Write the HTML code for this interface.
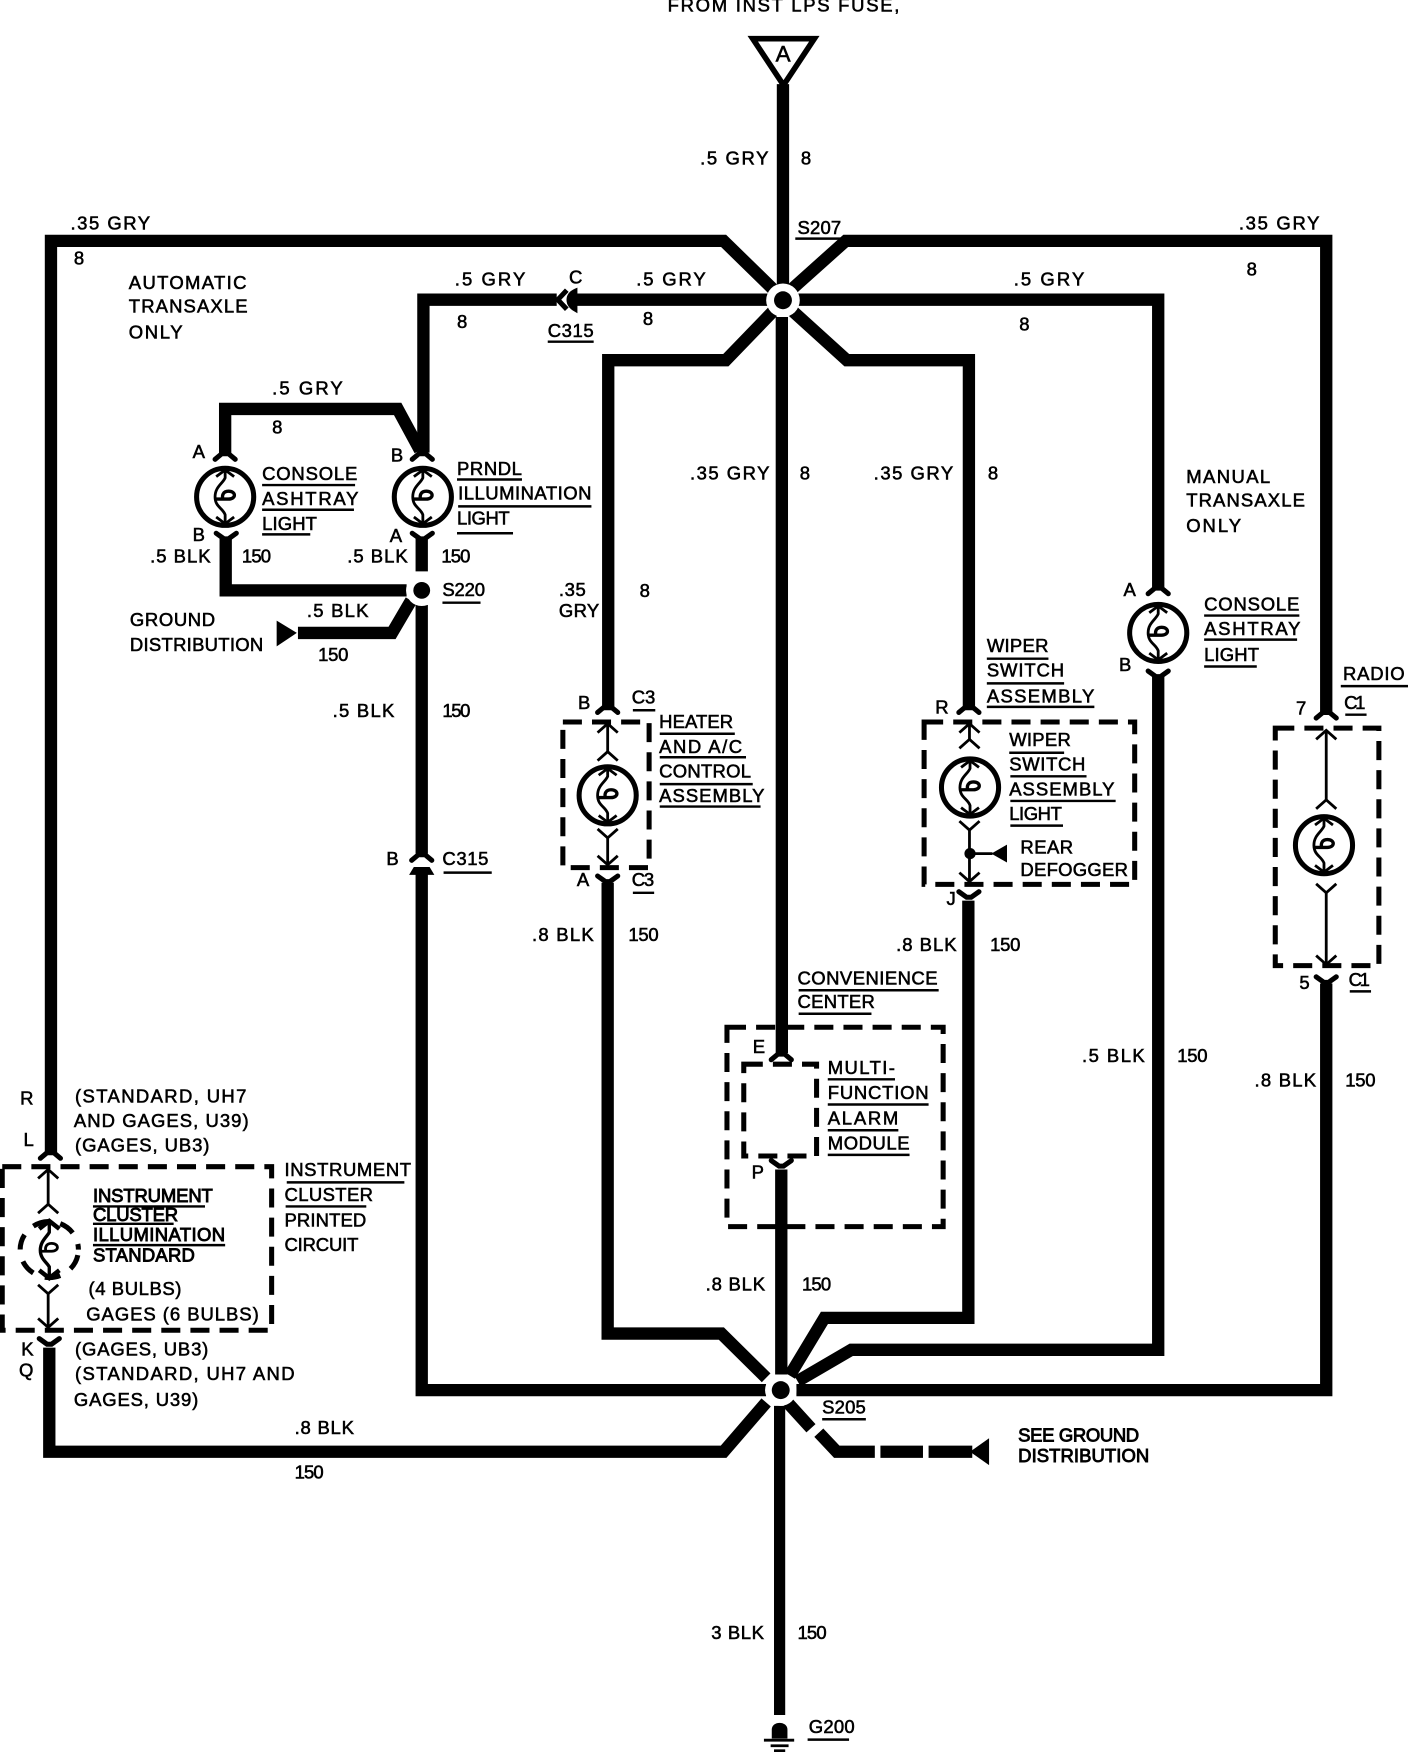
<!DOCTYPE html>
<html>
<head>
<meta charset="utf-8">
<title>Wiring diagram</title>
<style>
html,body{margin:0;padding:0;background:#fff;width:1408px;height:1752px;overflow:hidden}
svg{display:block}
text{font-family:"Liberation Sans",sans-serif;font-size:16.5px;fill:#000;stroke:#000;stroke-width:.5px}
.b{stroke-width:.8px}
.w{fill:none;stroke:#000;stroke-width:11;stroke-linejoin:miter}
.u{fill:none;stroke:#000;stroke-width:2.2}
.d{fill:none;stroke:#000;stroke-width:4.5;stroke-dasharray:17 9}
.t{fill:none;stroke:#000;stroke-width:2.5}
</style>
</head>
<body>
<svg xmlns="http://www.w3.org/2000/svg" width="1408" height="1752" viewBox="0 0 1257 1564">
<defs>
<g id="bulb" fill="none" stroke="#000">
<circle r="25.500" stroke-width="4.5"/>
<path stroke-width="2.5" d="M0,-25 L0,-17 C-2,-12 -9,-9 -9,0 C-9,9 -2,10 0,16 L0,25"/>
<path stroke-width="3" d="M-8,2 H3 C10,2 10,-5 3,-5 C-2,-5 -3,-1 -2,2"/>
<path stroke-width="2.5" d="M-8,-18 L0,-24 L8,-18 M-8,18 L0,24 L8,18"/>
</g>
<path id="cap" fill="none" stroke="#000" stroke-width="4.5" stroke-linecap="round" d="M-9,5 L-3,0 H3 L9,5"/>
<path id="cup" fill="none" stroke="#000" stroke-width="4.5" stroke-linecap="round" d="M-9,-4 L-2,1 H2 L9,-4"/>
<path id="up" fill="none" stroke="#000" stroke-width="2.5" d="M-9,7 L0,-1 L9,7"/>
<path id="dn" fill="none" stroke="#000" stroke-width="2.5" d="M-9,-7 L0,1 L9,-7"/>
</defs>

<!-- wires -->
<g class="w">
<path d="M699,75 V256"/>
<path d="M45.5,1030 V215 H646 L690,258"/>
<path d="M1184,637 V215 H755 L707,258"/>
<path d="M688,267.500 H515"/>
<path d="M497,267.500 H378 V404"/>
<path d="M712,267.500 H1034 V526"/>
<path d="M690,278 L648,321.500 H543 V634"/>
<path d="M708,278 L756,321.500 H865 V634"/>
<path d="M698,283 V940"/>
<path d="M201,406 V365 H355 L375,402"/>
<path d="M201.500,480 V527 H363"/>
<path d="M376.500,480 V510"/>
<path d="M367,536 L350,565 H266"/>
<path d="M376.500,540 V762"/>
<path d="M376.500,778 V1241 H684"/>
<path d="M711,1241 H1184 V878"/>
<path d="M542.500,788 V1190.500 H644 L684,1230"/>
<path d="M864.500,804 V1176.500 H736 L705,1228"/>
<path d="M1034,604 V1205 H760 L712,1233"/>
<path d="M697.500,1044 V1227"/>
<path d="M44,1203 V1296 H646 L684,1252"/>
<path d="M696,1255 V1531" style="stroke-width:10"/>
<path d="M703,1252 L724,1275"/>
<path d="M731,1279 L747,1296 H781"/>
<path d="M786,1296 H824"/>
<path d="M829,1296 H868"/>
</g>

<!-- source triangle -->
<path d="M672,34.500 H727 L699.500,76 Z" fill="#fff" stroke="#000" stroke-width="5"/>

<!-- splices -->
<circle cx="699" cy="268" r="15" fill="#fff"/><circle cx="699" cy="268" r="8"/>
<circle cx="697" cy="1241" r="14" fill="#fff"/><circle cx="697" cy="1241" r="8"/>
<circle cx="376.500" cy="527" r="14" fill="#fff"/><circle cx="376.500" cy="527" r="7.500"/>

<!-- arrow ends -->
<path d="M247,554 L265,565 L247,577 Z"/>
<path d="M883,1284 L866,1296 L883,1308 Z"/>

<!-- C315 horizontal -->
<path d="M506,259 L498,267.500 L506,276" fill="none" stroke="#000" stroke-width="4.500"/>
<path d="M514,259 C505,263 505,272 514,277 Z" stroke="#000" stroke-width="3"/>

<!-- connectors on wires -->
<use href="#cap" x="201" y="405"/><use href="#cap" x="377" y="405"/>
<use href="#cup" x="202" y="480"/><use href="#cup" x="377" y="480"/>
<use href="#cap" x="376.500" y="763"/><path d="M367,780 L370,775 H383 L386,780 Z" stroke="#000" stroke-width="2"/>
<use href="#cap" x="542.500" y="631"/><use href="#cup" x="542.500" y="786"/>
<use href="#cap" x="865" y="631"/><use href="#cup" x="865" y="800"/>
<use href="#cap" x="1034" y="525"/><use href="#cup" x="1034" y="603"/>
<use href="#cap" x="1184" y="636"/><use href="#cup" x="1184" y="876"/>
<use href="#cap" x="697.500" y="941"/><use href="#cup" x="697.500" y="1040"/>
<use href="#cap" x="45" y="1029"/><use href="#cup" x="44" y="1199"/>

<!-- bulbs -->
<use href="#bulb" x="201" y="443.500"/>
<use href="#bulb" x="377.500" y="443.500"/>
<use href="#bulb" x="542.500" y="710"/>
<use href="#bulb" x="866" y="703"/>
<use href="#bulb" x="1034" y="565"/>
<use href="#bulb" x="1182" y="754.500"/>

<!-- dashed boxes -->
<rect class="d" x="502.500" y="644.500" width="77" height="130"/>
<rect class="d" x="825" y="644.500" width="188" height="145"/>
<rect class="d" x="1138.500" y="650" width="92.500" height="212"/>
<rect class="d" x="649" y="917" width="193" height="178"/>
<rect class="d" x="664" y="950" width="65" height="82"/>
<rect class="d" x="2" y="1041.500" width="240.500" height="146"/>

<!-- inner leads -->
<path class="t" d="M542.500,646 V672 M542.500,748 V772"/>
<use href="#up" x="542.500" y="647"/><use href="#up" x="542.500" y="672"/>
<use href="#dn" x="542.500" y="747"/><use href="#dn" x="542.500" y="771"/>
<path class="t" d="M865.500,646 V661 M865.500,741 V786 M866,762 H886"/>
<use href="#up" x="865.500" y="647"/><use href="#up" x="865.500" y="661"/>
<use href="#dn" x="865.500" y="740"/><use href="#dn" x="865.500" y="786"/>
<circle cx="866" cy="762" r="5"/>
<path d="M899,754 L885,762 L899,770 Z"/>
<path class="t" d="M1184,652 V715 M1184,797 V860"/>
<use href="#up" x="1184" y="653"/><use href="#up" x="1184" y="715"/>
<use href="#dn" x="1184" y="796"/><use href="#dn" x="1184" y="860"/>
<path class="t" d="M43,1044 V1076 M43,1155 V1185"/>
<use href="#up" x="43" y="1045"/><use href="#up" x="43" y="1076"/>
<use href="#dn" x="43" y="1154"/><use href="#dn" x="43" y="1184"/>
<ellipse cx="44" cy="1115.500" rx="26" ry="25" fill="none" stroke="#000" stroke-width="4.500" stroke-dasharray="14 11" stroke-dashoffset="-5"/>
<path d="M44,1091 V1100 C42,1104 36,1108 36,1116 C36,1124 42,1127 44,1131 V1139" fill="none" stroke="#000" stroke-width="3"/>
<path d="M35,1097 L44,1090 L53,1097 M35,1134 L44,1141 L53,1134" fill="none" stroke="#000" stroke-width="4"/>
<path d="M37,1117 H46 C53,1117 53,1110 46,1110 C41,1110 40,1114 41,1117" fill="none" stroke="#000" stroke-width="2.500"/>

<!-- ground -->
<path d="M689,1552 V1544 C689,1536 703,1536 703,1544 V1552 Z"/>
<path d="M682,1553.500 H709 M688,1558.500 H704 M691,1563 H701" stroke="#000" stroke-width="2.500" fill="none"/>

<!-- underlines -->
<path class="u" d="M710,213 H752 M489,305 H530 M234,433 H317 M234,455 H316 M234,477 H277 M408,428 H466 M409,452 H528 M408,476 H458 M395,538 H429 M396,779 H439 M565,634 H585 M589,655 H656 M589,676 H666 M589,700 H672 M589,720 H679 M565,797 H584 M881,588 H936 M881,610 H950 M881,631 H977 M901,672 H950 M902,693 H970 M902,715 H996 M902,737 H949 M1075,549.500 H1160 M1075,571 H1158 M1075,595 H1122 M1197,612.500 H1258 M1201,638 H1220 M1205,885 H1224 M713,884 H838 M713,905 H778 M739,963.500 H799 M739,986 H829 M739,1009 H802 M739,1031 H812 M734,1267 H773 M721,1553 H758 M256,1055.500 H361 M255,1077 H327 M83,1077 H183 M83,1092.500 H155 M83,1111.500 H201"/>

<!-- labels -->
<text x="596" y="10" textLength="207">FROM INST LPS FUSE,</text>
<text style="font-size:20px" x="692.500" y="55">A</text>
<text x="625" y="147" textLength="61">.5 GRY</text><text x="715" y="147">8</text>
<text x="63" y="205" textLength="71">.35 GRY</text><text x="66" y="236">8</text>
<text x="115" y="258" textLength="105">AUTOMATIC</text>
<text x="115" y="279" textLength="106">TRANSAXLE</text>
<text x="115" y="302" textLength="48">ONLY</text>
<text x="406" y="255" textLength="63">.5 GRY</text><text x="508" y="253">C</text>
<text x="568" y="255" textLength="62">.5 GRY</text>
<text x="408" y="293">8</text><text x="489" y="301" textLength="41">C315</text><text x="574" y="290">8</text>
<text x="712" y="209" textLength="39">S207</text>
<text x="905" y="255" textLength="63">.5 GRY</text><text x="910" y="295">8</text>
<text x="1106" y="205" textLength="72">.35 GRY</text><text x="1113" y="246">8</text>
<text x="243" y="352" textLength="63">.5 GRY</text><text x="243" y="387">8</text>
<text x="172" y="409">A</text><text x="349" y="412">B</text>
<text x="234" y="428.500" textLength="85">CONSOLE</text>
<text x="234" y="451" textLength="86">ASHTRAY</text>
<text x="234" y="473" textLength="49">LIGHT</text>
<text x="408" y="424" textLength="58">PRNDL</text>
<text x="409" y="446" textLength="119">ILLUMINATION</text>
<text x="408" y="468" textLength="47">LIGHT</text>
<text x="172" y="483">B</text><text x="348" y="484">A</text>
<text x="134" y="502" textLength="54">.5 BLK</text><text x="216" y="502" textLength="26">150</text>
<text x="310" y="502" textLength="54">.5 BLK</text><text x="394" y="502" textLength="26">150</text>
<text x="395" y="532" textLength="38">S220</text>
<text x="499" y="532" textLength="24">.35</text><text x="499" y="551" textLength="36">GRY</text><text x="571" y="533">8</text>
<text x="274" y="551" textLength="55">.5 BLK</text>
<text x="116" y="559" textLength="76">GROUND</text>
<text x="116" y="581" textLength="119">DISTRIBUTION</text>
<text x="284" y="590" textLength="27">150</text>
<text x="297" y="640" textLength="55">.5 BLK</text><text x="395" y="640" textLength="25">150</text>
<text x="345" y="772">B</text><text x="395" y="772" textLength="41">C315</text>
<text x="616" y="428" textLength="71">.35 GRY</text><text x="714" y="428">8</text>
<text x="780" y="428" textLength="71">.35 GRY</text><text x="882" y="428">8</text>
<text x="1059" y="431" textLength="75">MANUAL</text>
<text x="1059" y="452" textLength="106">TRANSAXLE</text>
<text x="1059" y="475" textLength="49">ONLY</text>
<text x="1003" y="532">A</text>
<text x="1075" y="545" textLength="85">CONSOLE</text>
<text x="1075" y="567" textLength="86">ASHTRAY</text>
<text x="1075" y="590" textLength="49">LIGHT</text>
<text x="999" y="599">B</text>
<text x="881" y="582" textLength="55">WIPER</text>
<text x="881" y="604" textLength="69">SWITCH</text>
<text x="881" y="627" textLength="96">ASSEMBLY</text>
<text x="1199" y="607" textLength="55">RADIO</text>
<text x="1157" y="638">7</text><text x="1200" y="633" textLength="19">C1</text>
<text x="835" y="637">R</text>
<text x="901" y="666" textLength="55">WIPER</text>
<text x="901" y="688" textLength="68">SWITCH</text>
<text x="901" y="710" textLength="94">ASSEMBLY</text>
<text x="901" y="732" textLength="47">LIGHT</text>
<text x="911" y="762" textLength="47">REAR</text>
<text x="911" y="782" textLength="96">DEFOGGER</text>
<text x="845" y="808">J</text>
<text x="800" y="849" textLength="54">.8 BLK</text><text x="884" y="849" textLength="27">150</text>
<text x="1160" y="883">5</text><text x="1204" y="880" textLength="19">C1</text>
<text x="966" y="948" textLength="56">.5 BLK</text><text x="1051" y="948" textLength="27">150</text>
<text x="1120" y="970" textLength="55">.8 BLK</text><text x="1201" y="970" textLength="27">150</text>
<text x="516" y="633">B</text><text x="564" y="628" textLength="21">C3</text>
<text x="588.500" y="650" textLength="66">HEATER</text>
<text x="588.500" y="672" textLength="74">AND A/C</text>
<text x="588.500" y="694" textLength="82">CONTROL</text>
<text x="588.500" y="716" textLength="94">ASSEMBLY</text>
<text x="515" y="791">A</text><text x="564" y="791" textLength="20">C3</text>
<text x="475" y="840" textLength="55">.8 BLK</text><text x="561" y="840" textLength="27">150</text>
<text x="712" y="879" textLength="125">CONVENIENCE</text>
<text x="712" y="900" textLength="69">CENTER</text>
<text x="672" y="940">E</text>
<text x="739" y="959" textLength="60">MULTI-</text>
<text x="739" y="981" textLength="90">FUNCTION</text>
<text x="739" y="1004" textLength="63">ALARM</text>
<text x="739" y="1026" textLength="73">MODULE</text>
<text x="671" y="1052">P</text>
<text x="630" y="1152" textLength="53">.8 BLK</text><text x="716" y="1152" textLength="26">150</text>
<text x="734" y="1262" textLength="39">S205</text>
<text class="b" x="909" y="1287" textLength="108">SEE GROUND</text>
<text class="b" x="909" y="1305" textLength="117">DISTRIBUTION</text>
<text x="635" y="1463" textLength="47">3 BLK</text><text x="712" y="1463" textLength="26">150</text>
<text x="722" y="1547" textLength="41">G200</text>
<text x="18" y="986">R</text><text x="21" y="1023">L</text>
<text x="67" y="984" textLength="153">(STANDARD, UH7</text>
<text x="66" y="1006" textLength="156">AND GAGES, U39)</text>
<text x="67" y="1028" textLength="120">(GAGES, UB3)</text>
<text x="254" y="1050" textLength="113">INSTRUMENT</text>
<text x="254" y="1072" textLength="79">CLUSTER</text>
<text x="254" y="1095" textLength="73">PRINTED</text>
<text x="254" y="1117" textLength="66">CIRCUIT</text>
<text class="b" x="83" y="1073" textLength="107">INSTRUMENT</text>
<text class="b" x="83" y="1090" textLength="76">CLUSTER</text>
<text class="b" x="83" y="1108" textLength="118">ILLUMINATION</text>
<text class="b" x="83" y="1126" textLength="91">STANDARD</text>
<text x="79" y="1156" textLength="83">(4 BULBS)</text>
<text x="77" y="1179" textLength="154">GAGES (6 BULBS)</text>
<text x="19" y="1210">K</text><text x="17" y="1229">Q</text>
<text x="67" y="1210" textLength="119">(GAGES, UB3)</text>
<text x="67" y="1232" textLength="196">(STANDARD, UH7 AND</text>
<text x="66" y="1255" textLength="111">GAGES, U39)</text>
<text x="263" y="1280" textLength="53">.8 BLK</text>
<text x="263" y="1320" textLength="26">150</text>
</svg>
</body>
</html>
